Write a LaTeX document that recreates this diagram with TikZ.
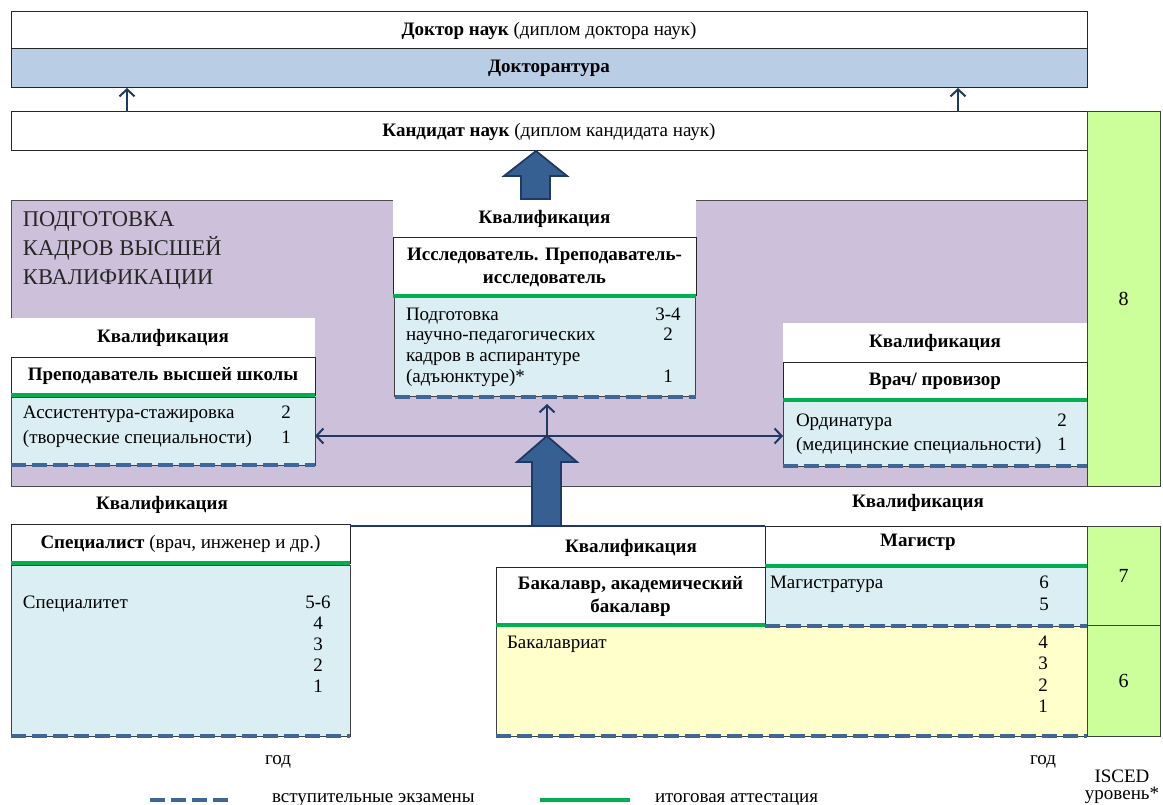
\documentclass[tikz,border=0pt]{standalone}
\usepackage{fontspec}
\setmainfont{Liberation Serif}
\usetikzlibrary{arrows.meta}
\definecolor{navy}{HTML}{1F3864}
\definecolor{steel}{HTML}{376092}
\definecolor{lblue}{HTML}{DAEEF3}
\definecolor{dblue}{HTML}{B9CDE5}
\definecolor{purp}{HTML}{CCC0DA}
\definecolor{yel}{HTML}{FFFFCC}
\definecolor{lgreen}{HTML}{CCFF99}
\definecolor{gline}{HTML}{00B050}
\definecolor{dashc}{HTML}{3F6696}
\begin{document}
\begin{tikzpicture}[x=1pt,y=-1pt,
  every node/.style={inner sep=0pt, outer sep=0pt, font=\fontsize{19}{21}\selectfont},
  frame/.style={draw=black!85, line width=1pt, fill=white},
  plain/.style={fill=white},
  content/.style={draw=black!75, line width=0.8pt, fill=lblue},
  level/.style={draw=black!75, line width=1pt, fill=lgreen, font=\fontsize{20}{24}\selectfont},
  gl/.style={gline, line width=4pt},
  dl/.style={dashc, line width=4pt, dash pattern=on 15pt off 6pt},
  thinarrow/.style={navy, line width=2.5pt, -{Straight Barb[length=7pt,width=15pt,line width=2pt]}},
  bigarrow/.style={fill=steel, draw=navy, line width=1.8pt, line join=miter},
  title/.style={anchor=base west, font=\fontsize{22.5}{29}\selectfont, text=black!85},
  txt/.style={anchor=base west},
  num/.style={anchor=base},
  hd/.style={font=\fontsize{19}{23}\selectfont\bfseries, align=center}
]
\useasboundingbox (0,0) rectangle (1163,805);
\fill[white] (0,0) rectangle (1163,805);

% top blocks
\node[frame, minimum width=1076pt, minimum height=37pt] (doctor) at (549,30.5) {\textbf{Доктор наук} (диплом доктора наук)};
\node[frame, fill=dblue, minimum width=1076pt, minimum height=39pt] (doctorant) at (549,68.5) {\textbf{Докторантура}};
\node[frame, minimum width=1076pt, minimum height=39pt] (kand) at (549,131.5) {\textbf{Кандидат наук} (диплом кандидата наук)};

\coordinate (a1s) at (127,112);
\coordinate (a1e) at (127,88);
\coordinate (a2s) at (958,112);
\coordinate (a2e) at (958,88);
\draw[thinarrow] (a1s) -- (a1e);
\draw[thinarrow] (a2s) -- (a2e);

% purple region
\node[draw=black!70, line width=0.8pt, fill=purp, minimum width=1076pt, minimum height=286pt] (purple) at (549,343) {};
\node[level, minimum width=73pt, minimum height=374pt] (l8) at (1123.5,299) {8};

\node[title] (t1) at (23,226.5) {ПОДГОТОВКА};
\node[title] (t2) at (23,256) {КАДРОВ ВЫСШЕЙ};
\node[title] (t3) at (23,285) {КВАЛИФИКАЦИИ};

% center block
\node[plain, minimum width=303pt, minimum height=39pt] (cq) at (544.5,218.5) {\textbf{Квалификация}};
\node[frame, minimum width=303pt, minimum height=58pt, hd] (res) at (544.5,267) {Исследователь. Преподаватель-\\исследователь};
\node[content, minimum width=301pt, minimum height=99pt] (rescont) at (545,347) {};
\draw[gl] (res.south west) -- (res.south east);
\draw[dl] (rescont.south west) -- (rescont.south east);
\node[txt] (r1) at (406,320) {Подготовка};
\node[txt] (r2) at (406,340.5) {научно-педагогических};
\node[txt] (r3) at (406,361.5) {кадров в аспирантуре};
\node[txt] (r4) at (406,382.5) {(адъюнктуре)*};
\node[num] (rn1) at (668,320) {3-4};
\node[num] (rn2) at (668,340.5) {2};
\node[num] (rn3) at (668,382.5) {1};

% left block
\node[plain, minimum width=304pt, minimum height=39pt] (lq) at (163,337.5) {\textbf{Квалификация}};
\node[frame, minimum width=304pt, minimum height=38pt] (lhead) at (163,376) {\textbf{Преподаватель высшей школы}};
\node[content, minimum width=304pt, minimum height=68pt] (lcont) at (163,431) {};
\draw[gl] (lhead.south west) -- (lhead.south east);
\draw[dl] (lcont.south west) -- (lcont.south east);
\node[txt] (lt1) at (23,418) {Ассистентура-стажировка};
\node[txt] (lt2) at (23,443) {(творческие специальности)};
\node[num] (ln1) at (286,418) {2};
\node[num] (ln2) at (286,443) {1};

% right block
\node[plain, minimum width=304pt, minimum height=39pt] (rq) at (935,342.5) {\textbf{Квалификация}};
\node[frame, minimum width=304pt, minimum height=38pt] (rhead) at (935,381) {\textbf{Врач/ провизор}};
\node[content, minimum width=304pt, minimum height=65pt] (rcont) at (935,433.5) {};
\draw[gl] (rhead.south west) -- (rhead.south east);
\draw[dl] (rcont.south west) -- (rcont.south east);
\node[txt] (rt1) at (796,426) {Ординатура};
\node[txt] (rt2) at (796,450) {(медицинские специальности)};
\node[num] (rn4) at (1062,426) {2};
\node[num] (rn5) at (1062,450) {1};

% connectors in purple region
\coordinate (hub) at (547,436);
\draw[thinarrow] (hub) -- (lcont.east |- hub);
\draw[thinarrow] (hub) -- (rcont.west |- hub);
\draw[thinarrow] (hub) -- (547,404);

% bottom left
\node (sq) at (162,505) {\textbf{Квалификация}};
\node[frame, minimum width=339pt, minimum height=39pt] (spechead) at (180.5,543.5) {\textbf{Специалист} (врач, инженер и др.)};
\node[content, minimum width=339pt, minimum height=171pt] (speccont) at (180.5,650.5) {};
\draw[gl] (spechead.south west) -- (spechead.south east);
\draw[dl] (speccont.south west) -- (speccont.south east);
\node[txt] (st1) at (23,608) {Специалитет};
\node[num] (sn1) at (318,608) {5-6};
\node[num] (sn2) at (318,629) {4};
\node[num] (sn3) at (318,650) {3};
\node[num] (sn4) at (318,671) {2};
\node[num] (sn5) at (318,692.5) {1};
\node (god1) at (278,762) {год};

% magistr
\node (mq) at (918,503) {\textbf{Квалификация}};
\node[frame, minimum width=322pt, minimum height=40pt] (maghead) at (926,546) {};
\node (magt) at (918,542) {\textbf{Магистр}};
\node[content, minimum width=322pt, minimum height=59pt] (magcont) at (926,596.5) {};
\draw[gl] (maghead.south west) -- (maghead.south east);

% bachelor
\node (bq) at (631,548) {\textbf{Квалификация}};
\node[content, fill=yel, minimum width=591pt, minimum height=110pt] (bakcont) at (791.5,681) {};
\node[frame, minimum width=269pt, minimum height=58pt, hd] (bakhead) at (630.5,596) {Бакалавр, академический\\бакалавр};
\draw[gl] (bakhead.south west) -- (bakhead.south east);
\draw[dl] (bakcont.north -| maghead.west) -- (bakcont.north east);
\draw[dl] (bakcont.south west) -- (bakcont.south east);
\node[txt] (mt1) at (770,588) {Магистратура};
\node[num] (mn1) at (1044,588) {6};
\node[num] (mn2) at (1044,610) {5};
\node[txt] (bt1) at (507,648) {Бакалавриат};
\node[num] (bn1) at (1043,648) {4};
\node[num] (bn2) at (1043,669.5) {3};
\node[num] (bn3) at (1043,691) {2};
\node[num] (bn4) at (1043,712.5) {1};
\node (god2) at (1043,762) {год};

\node[level, minimum width=73pt, minimum height=99pt] (l7) at (1123.5,575.5) {7};
\node[level, minimum width=73pt, minimum height=111pt] (l6) at (1123.5,680.5) {6};
\node[num] (isced1) at (1122,782) {ISCED};
\node[num] (isced2) at (1122,799) {уровень*};

% navy line between specialist and magistr
\draw[navy, line width=2.5pt] (spechead.east |- maghead.north) -- (maghead.north west);

% big arrows
\coordinate (b1) at (536,151);
\draw[bigarrow] (b1) -- (567,176) -- (550,176) -- (550,199) -- (521,199) -- (521,176) -- (504,176) -- cycle;
\coordinate (b2) at (547,436);
\draw[bigarrow] (b2) -- (577,462) -- (561,462) -- (561,526) -- (532,526) -- (532,462) -- (517,462) -- cycle;

% legend
\coordinate (ld1) at (150,800);
\coordinate (ld2) at (230,800);
\draw[dl] (ld1) -- (ld2);
\node[txt] (leg1) at (272,802) {вступительные экзамены};
\coordinate (lg1) at (540,800);
\coordinate (lg2) at (630,800);
\draw[gl] (lg1) -- (lg2);
\node[txt] (leg2) at (655,802) {итоговая аттестация};
\end{tikzpicture}
\end{document}
